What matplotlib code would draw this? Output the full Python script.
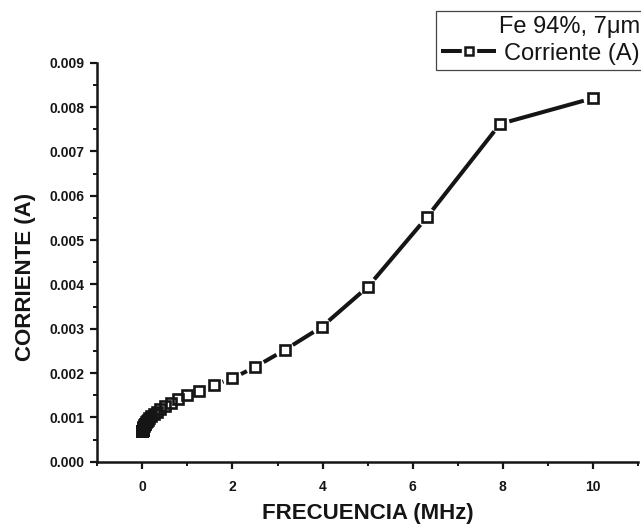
import numpy as np
import matplotlib
matplotlib.use("Agg")
import matplotlib.pyplot as plt
from matplotlib.collections import LineCollection
from matplotlib.lines import Line2D
from matplotlib.legend_handler import HandlerTuple

# Measured current vs. frequency (Fe 94 %, 7 um sample)
freq_mhz = [0.001, 0.00126, 0.00158, 0.002, 0.00251, 0.00316, 0.00398, 0.00501,
            0.00631, 0.00794, 0.01, 0.0126, 0.0158, 0.02, 0.0251, 0.0316, 0.0398,
            0.0501, 0.0631, 0.0794, 0.1, 0.126, 0.158, 0.2, 0.251, 0.316, 0.398,
            0.501, 0.631, 0.794, 1.0, 1.26, 1.58, 2.0, 2.51, 3.16, 3.98, 5.01,
            6.31, 7.94, 10.0]
current_a = [0.000685, 0.000690, 0.000692, 0.000695, 0.000700, 0.000705, 0.000710,
             0.000715, 0.000720, 0.000730, 0.000740, 0.000750, 0.000760, 0.000770,
             0.000785, 0.000800, 0.000820, 0.000840, 0.000860, 0.000890, 0.000920,
             0.000950, 0.000990, 0.001030, 0.001080, 0.001130, 0.001190, 0.001260,
             0.001330, 0.001410, 0.001500, 0.001600, 0.001730, 0.001880, 0.002140,
             0.002520, 0.003040, 0.003950, 0.005510, 0.007620, 0.008200]

x_ticks = [0, 2, 4, 6, 8, 10]
y_ticks = [0.000, 0.001, 0.002, 0.003, 0.004, 0.005, 0.006, 0.007, 0.008, 0.009]

series_label = "Corriente (A)"
legend_title = "Fe 94%, 7\u03bcm"
x_label = "FRECUENCIA (MHz)"
y_label = "CORRIENTE (A)"

INK = "#151515"
DPI = 100

plt.rcParams["font.family"] = ["Liberation Sans", "DejaVu Sans"]

fig = plt.figure(figsize=(6.41, 5.31), dpi=DPI)
ax = fig.add_axes([0.1518, 0.1305, 0.8435, 0.7514])

ax.set_xlim(-1, 11)
ax.set_ylim(0, 0.009)

# connecting line, with a small gap left around every symbol
gap_px = 9.5
pts = ax.transData.transform(np.column_stack([freq_mhz, current_a]))
inv = ax.transData.inverted()
segments = []
for p0, p1 in zip(pts[:-1], pts[1:]):
    d = p1 - p0
    length = np.hypot(*d)
    if length < 4.5:
        segments.append(inv.transform([p0, p1]))
    elif length > 2 * gap_px:
        u = d / length
        segments.append(inv.transform([p0 + u * gap_px, p1 - u * gap_px]))
ax.add_collection(LineCollection(segments, colors=INK, linewidths=2.9,
                                 capstyle="butt", zorder=2))

ax.plot(freq_mhz, current_a, linestyle="none", marker="s", markersize=7.4,
        markerfacecolor="none", markeredgecolor=INK, markeredgewidth=1.9,
        zorder=3)

# axes styling
for side in ("top", "right"):
    ax.spines[side].set_visible(False)
for side in ("left", "bottom"):
    ax.spines[side].set_linewidth(1.8)
    ax.spines[side].set_color(INK)

ax.set_xticks(x_ticks)
ax.set_xticklabels([str(t) for t in x_ticks])
ax.set_yticks(y_ticks)
ax.set_yticklabels([f"{t:.3f}" for t in y_ticks])
ax.set_xticks(np.arange(-1, 11.5, 1), minor=True)
ax.set_yticks(np.arange(0, 0.0091, 0.0005), minor=True)

ax.tick_params(axis="both", which="major", direction="out", length=5,
               width=1.6, color=INK, labelsize=10, labelcolor=INK)
ax.tick_params(axis="both", which="minor", direction="out", length=3,
               width=1.4, color=INK)
ax.tick_params(axis="x", which="major", pad=8.5)
ax.tick_params(axis="y", which="major", pad=4.5)
for lab in ax.get_xticklabels() + ax.get_yticklabels():
    lab.set_fontweight("bold")

ax.set_xlabel(x_label, fontsize=16, fontweight="bold", color=INK, va="center")
ax.xaxis.set_label_coords(0.5, -0.129)
ax.set_ylabel(y_label, fontsize=16, fontweight="bold", color=INK, va="center")
ax.yaxis.set_label_coords(-0.132, 0.463)

# legend: line - hollow square - line
h_line = Line2D([], [], color=INK, linewidth=2.9, solid_capstyle="butt")
h_mask = Line2D([], [], linestyle="none", marker="s", markersize=9.5,
                markerfacecolor="white", markeredgecolor="white")
h_mark = Line2D([], [], linestyle="none", marker="s", markersize=6,
                markerfacecolor="none", markeredgecolor=INK, markeredgewidth=1.8)
leg = fig.legend([(h_line, h_mask, h_mark)], [series_label],
                 handler_map={tuple: HandlerTuple(ndivide=1, pad=0)},
                 title=legend_title, title_fontsize=17, fontsize=17,
                 loc="upper right", bbox_to_anchor=(1.006, 1 - 10.7 / 531),
                 alignment="right", frameon=True, fancybox=False,
                 edgecolor=INK, borderpad=0.22, handlelength=2.3,
                 handletextpad=0.35, labelspacing=0.2, borderaxespad=0)
leg.get_frame().set_linewidth(0.9)
for t in leg.get_texts():
    t.set_color(INK)
leg.get_title().set_color(INK)

fig.savefig("out.png", dpi=DPI)
